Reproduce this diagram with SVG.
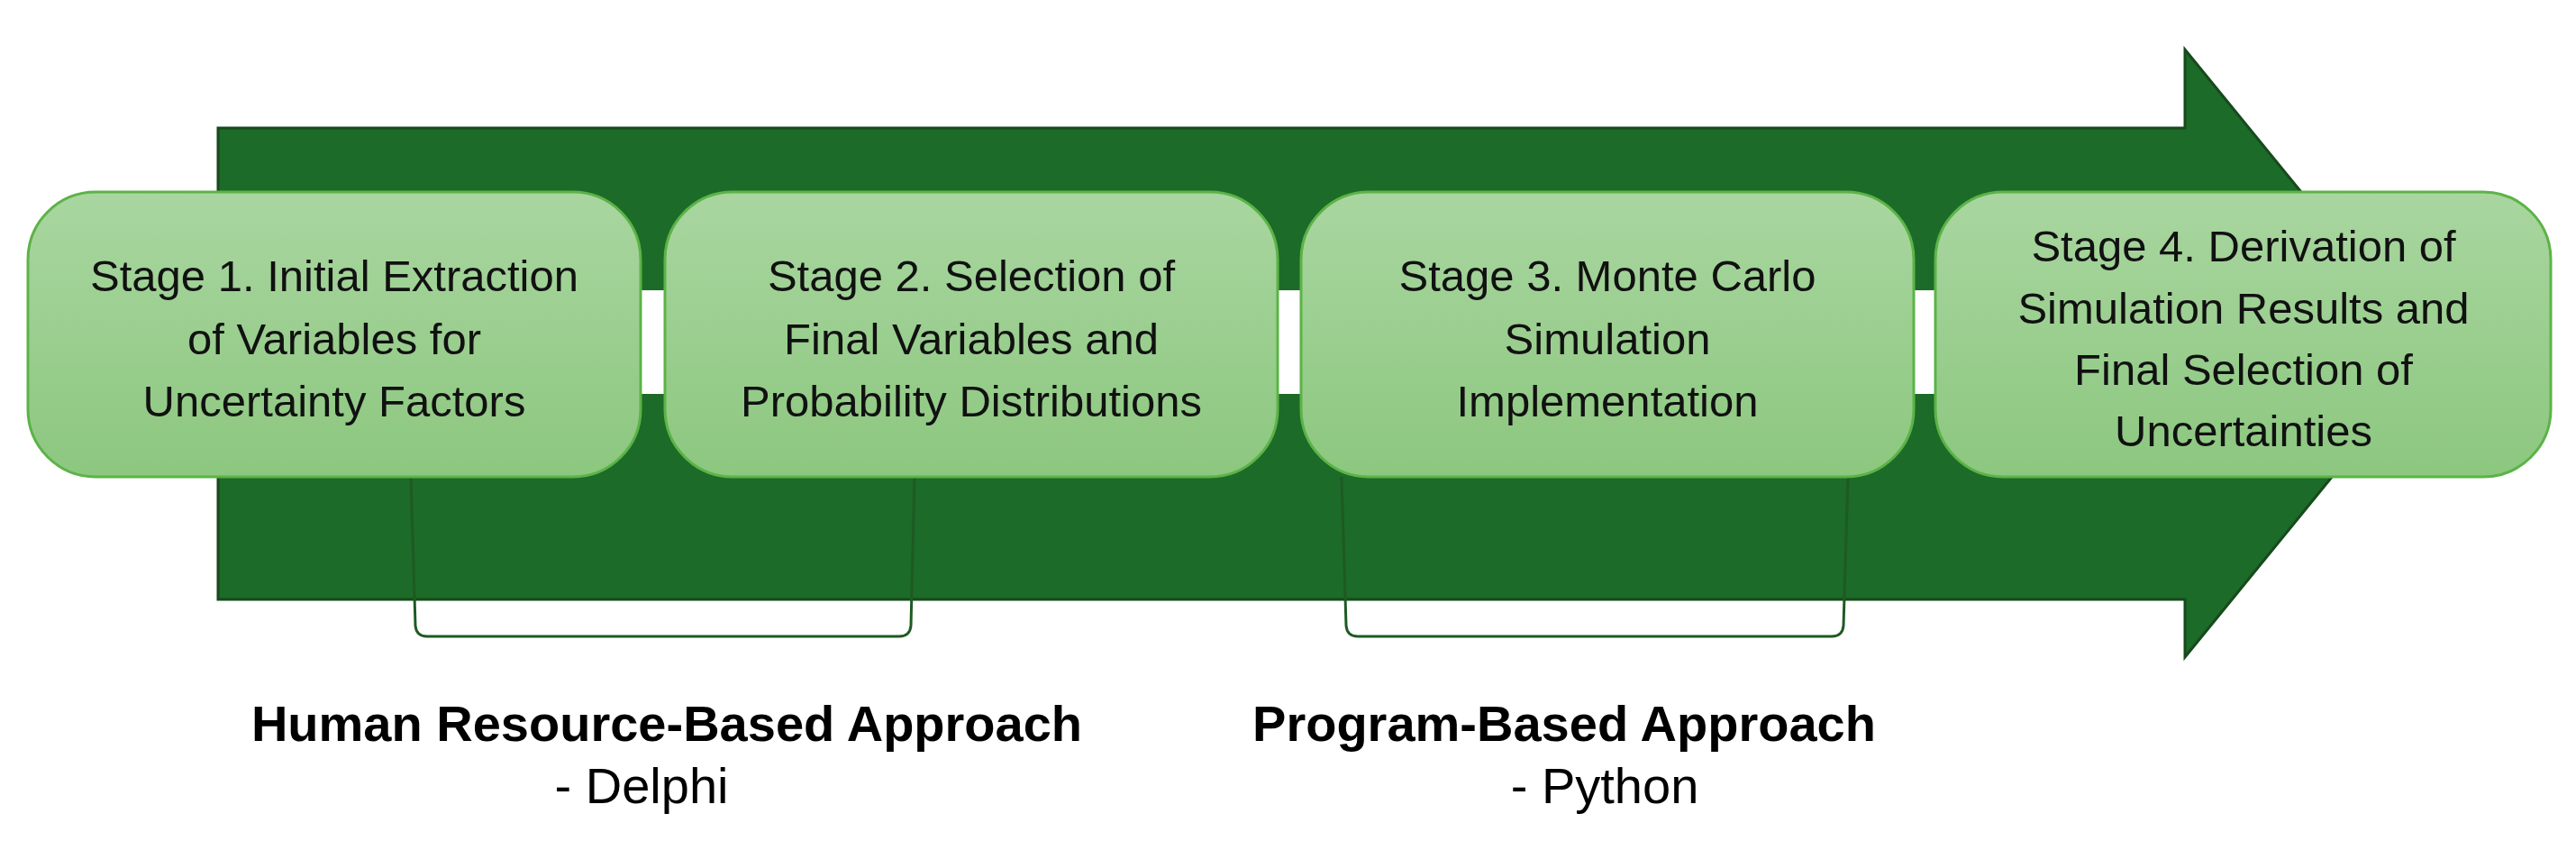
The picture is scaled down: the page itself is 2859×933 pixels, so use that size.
<svg xmlns="http://www.w3.org/2000/svg" width="2859" height="933" viewBox="0 0 2859 933">
<defs>
<linearGradient id="g" x1="0" y1="0" x2="0" y2="1"><stop offset="0" stop-color="#a9d6a0"/><stop offset="1" stop-color="#8cc77f"/></linearGradient>
<style>
.box{fill:url(#g);stroke:#5cb347;stroke-width:3}
.t{font-family:"Liberation Sans",Arial,sans-serif;font-size:49px;fill:#111;text-anchor:middle}
.br{fill:none;stroke:#1e5a22;stroke-width:3}
.lb{font-family:"Liberation Sans",Arial,sans-serif;font-size:56px;fill:#000;text-anchor:middle}
</style>
</defs>
<rect width="2859" height="933" fill="#fff"/>
<g id="arrow"><path d="M242,142 H2425 V55 L2700,392 L2425,729 V665 H242 Z" fill="#1c6b28" stroke="#174a1c" stroke-width="3"/>
<rect x="700" y="322" width="1500" height="115" fill="#fff"/></g>
<g id="connectors">
<path class="br" d="M456,529 L461,694 Q462,706 474,706 H998 Q1010,706 1011,694 L1015,529"/>
<path class="br" d="M1489,529 L1494,694 Q1495,706 1507,706 H2033 Q2045,706 2046,694 L2051,529"/>
</g>
<g id="stage1"><rect class="box" x="31" y="213" width="680" height="316" rx="75"/>
<text class="t"><tspan x="371" y="323">Stage 1. Initial Extraction</tspan><tspan x="371" y="393">of Variables for</tspan><tspan x="371" y="462">Uncertainty Factors</tspan></text></g>
<g id="stage2"><rect class="box" x="738" y="213" width="680" height="316" rx="75"/>
<text class="t"><tspan x="1078" y="323">Stage 2. Selection of</tspan><tspan x="1078" y="393">Final Variables and</tspan><tspan x="1078" y="462">Probability Distributions</tspan></text></g>
<g id="stage3"><rect class="box" x="1444" y="213" width="680" height="316" rx="75"/>
<text class="t"><tspan x="1784" y="323">Stage 3. Monte Carlo</tspan><tspan x="1784" y="393">Simulation</tspan><tspan x="1784" y="462">Implementation</tspan></text></g>
<g id="stage4"><rect class="box" x="2148" y="213" width="683" height="316" rx="75"/>
<text class="t"><tspan x="2490" y="290">Stage 4. Derivation of</tspan><tspan x="2490" y="359">Simulation Results and</tspan><tspan x="2490" y="427">Final Selection of</tspan><tspan x="2490" y="495">Uncertainties</tspan></text></g>
<g id="label1"><text class="lb" x="740" y="822" font-weight="bold">Human Resource-Based Approach</text><text class="lb" x="712" y="891">- Delphi</text></g>
<g id="label2"><text class="lb" x="1736" y="822" font-weight="bold">Program-Based Approach</text><text class="lb" x="1781" y="891">- Python</text></g>
</svg>
